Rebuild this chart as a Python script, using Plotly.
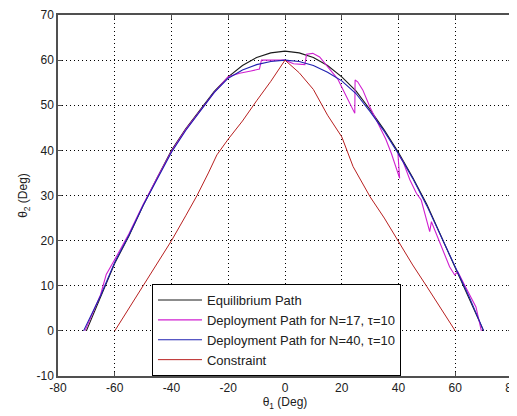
import plotly.graph_objects as go

# equilibrium path (black)
eq_x = [-70, -65, -60, -55, -50, -45, -40, -35, -30, -25, -20, -15, -10, -5, 0,
        5, 10, 15, 20, 25, 30, 35, 40, 45, 50, 55, 60, 65, 70]
eq_y = [0, 7.5, 15, 21, 27.8, 34, 40, 44.8, 48.8, 53, 56.3, 58.8, 60.6, 61.6, 62,
        61.6, 60.6, 58.8, 56.3, 53.2, 49, 44.5, 39.5, 34, 28, 21, 14, 7.3, 0]

# deployment path N=17 (magenta)
n17_x = [-70.5, -68, -65, -63, -62, -60, -55, -50, -45, -40, -35, -30, -25, -20, -16, -12,
         -9, -8.3, -5, 0, 3, 7, 7.6, 9.8, 12.2, 15, 18.6, 20.5, 24.6, 24.7, 25.6, 27.4,
         30, 33.4, 35.5, 37.5, 40.4, 39.8, 41.6, 44, 46.3, 48, 51, 51.6, 55, 58, 59.8,
         60.9, 63, 65, 67.3, 69.2]
n17_y = [0, 3.5, 8, 12.5, 13.5, 15.8, 21.5, 28, 34, 39.8, 44.6, 48.8, 52.8, 56.3, 57.1, 57.6,
         58, 60, 60, 60, 59.2, 59, 61.3, 61.5, 60.7, 58.6, 55.8, 53.4, 48.2, 55.6, 55.2, 53.4,
         49.5, 45.2, 42.5, 39.3, 33.8, 39.3, 37.5, 33.5, 30.5, 29, 22, 24.2, 19, 14.2, 12.4,
         13.1, 10.5, 8, 5.3, 0]

# deployment path N=40 (blue)
n40_x = [-71, -68, -65, -60, -55, -50, -45, -40, -35, -30, -25, -20, -15, -10, -5, 0,
         5, 10, 15, 20, 25, 30, 35, 40, 45, 50, 55, 60, 65, 70]
n40_y = [0, 3.8, 7.8, 15.2, 21.2, 27.8, 33.8, 39.6, 44.4, 48.6, 52.8, 56, 57.8, 59, 59.7, 60,
         59.7, 58.8, 57.3, 55.4, 52.6, 48.6, 44.2, 39.2, 33.8, 27.7, 21, 14.2, 7.4, 0]

# constraint (red)
con_x = [-60, -55, -50, -45, -40, -35, -31, -27, -24, -20, -15, -10, -5, 0,
         5, 10, 15, 20, 24, 30, 35, 40, 45, 50, 55, 60]
con_y = [0, 5, 10, 15, 20, 25.5, 30, 35, 39, 42.5, 46.5, 51, 55.3, 60,
         57.2, 53.5, 47.8, 43, 36.4, 29.7, 25, 19.8, 14.6, 9.8, 5, 0]

x_ticks = [-80, -60, -40, -20, 0, 20, 40, 60, 80]
x_labels = ['-80', '-60', '-40', '-20', '0', '20', '40', '60', '80']
y_ticks = [-10, 0, 10, 20, 30, 40, 50, 60, 70]
y_labels = ['-10', '0', '10', '20', '30', '40', '50', '60', '70']

fig = go.Figure()
fig.add_trace(go.Scatter(x=eq_x, y=eq_y, mode='lines', name='Equilibrium Path',
                         legendgroup='a', line=dict(color='#1a1a1a', width=1.1)))
fig.add_trace(go.Scatter(x=n17_x, y=n17_y, mode='lines', name='Deployment Path for N=17, τ=10',
                         legendgroup='b', line=dict(color='#d020d0', width=1.1)))
fig.add_trace(go.Scatter(x=n40_x, y=n40_y, mode='lines', name='Deployment Path for N=40, τ=10',
                         legendgroup='c', line=dict(color='#2020b0', width=1.1)))
fig.add_trace(go.Scatter(x=con_x, y=con_y, mode='lines', name='Constraint',
                         legendgroup='d', line=dict(color='#b82020', width=1)))

axis_style = dict(showline=True, linecolor='#505050', linewidth=1.5, mirror='allticks',
                  ticks='inside', ticklen=4, tickcolor='#505050', automargin=False,
                  ticklabeloverflow='allow',
                  showgrid=True, gridcolor='black', gridwidth=1, griddash='1px,3px',
                  zeroline=False, tickfont=dict(size=12, color='#202020'))

fig.update_xaxes(range=[-80, 80], tickvals=x_ticks, ticktext=x_labels,
                 title=dict(text='θ<sub>1</sub> (Deg)', standoff=2,
                            font=dict(size=12, color='#202020')), **axis_style)
fig.update_yaxes(range=[-10, 70], tickvals=y_ticks, ticktext=y_labels,
                 title=dict(text='θ<sub>2</sub> (Deg)', standoff=6,
                            font=dict(size=12, color='#202020')), **axis_style)

# the page body adds an 8px margin, so the figure is 8px smaller and shifted
fig.update_layout(
    width=509, height=408,
    margin=dict(l=50, r=5, t=7, b=40, autoexpand=False),
    paper_bgcolor='white', plot_bgcolor='white',
    font=dict(family='Liberation Sans, Arial', color='#202020'),
    showlegend=True,
    legend=dict(x=0.207, y=0, xanchor='left', yanchor='bottom',
                bordercolor='black', borderwidth=1, bgcolor='white',
                font=dict(size=13), itemwidth=44, tracegroupgap=0),
)

fig.write_html("out.html")
